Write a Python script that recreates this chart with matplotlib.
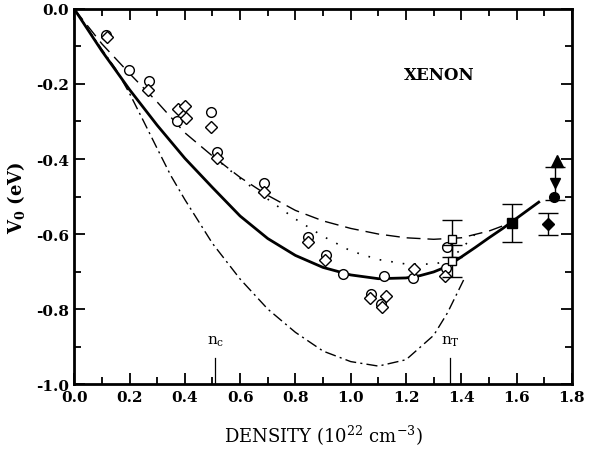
import matplotlib
matplotlib.use("Agg")
import matplotlib.pyplot as plt
from matplotlib.ticker import MultipleLocator

plt.rcParams['font.family'] = 'DejaVu Serif'
plt.rcParams['mathtext.fontset'] = 'dejavuserif'

# experimental points (open symbols)
circle_x = [0.116, 0.199, 0.271, 0.372, 0.494, 0.516, 0.687, 0.846, 0.91, 0.972,
            1.12, 1.225, 1.073, 1.11, 1.344, 1.348]
circle_y = [-0.069, -0.163, -0.192, -0.298, -0.276, -0.381, -0.465, -0.609, -0.656, -0.707,
            -0.712, -0.717, -0.76, -0.787, -0.691, -0.635]
diamond_x = [0.119, 0.267, 0.376, 0.401, 0.405, 0.495, 0.517, 0.687, 0.846, 0.907,
             1.07, 1.128, 1.113, 1.229, 1.341]
diamond_y = [-0.075, -0.216, -0.267, -0.259, -0.291, -0.315, -0.398, -0.487, -0.621, -0.669,
             -0.771, -0.766, -0.795, -0.693, -0.712]

# points with error bars
sq_open_x = [1.365, 1.365]
sq_open_y = [-0.612, -0.672]
sq_open_err = [0.05, 0.042]
sq_fill = (1.583, -0.571, 0.05)
dia_fill = (1.713, -0.573, 0.03)
tri_up = (1.745, -0.405)
tri_down = (1.74, -0.465, 0.045)
dot_fill = (1.735, -0.501)

# theory curves
solid_x = [0.0, 0.1, 0.2, 0.3, 0.4, 0.5, 0.6, 0.7, 0.8, 0.9, 1.0, 1.1, 1.2, 1.25, 1.3,
           1.35, 1.4, 1.45, 1.5, 1.55, 1.6, 1.68]
solid_y = [0.0, -0.112, -0.215, -0.31, -0.398, -0.476, -0.552, -0.612, -0.657, -0.689,
           -0.709, -0.719, -0.717, -0.711, -0.701, -0.686, -0.661, -0.636, -0.61, -0.585,
           -0.558, -0.515]
dash_x = [0.0, 0.1, 0.2, 0.3, 0.4, 0.5, 0.6, 0.7, 0.8, 0.9, 1.0, 1.1, 1.2, 1.3, 1.4, 1.5, 1.58]
dash_y = [0.0, -0.093, -0.172, -0.248, -0.33, -0.392, -0.449, -0.497, -0.537, -0.565, -0.585,
          -0.6, -0.61, -0.614, -0.61, -0.592, -0.57]
dot_x = [0.5, 0.6, 0.7, 0.8, 0.9, 1.0, 1.1, 1.2, 1.3, 1.35, 1.4, 1.45]
dot_y = [-0.392, -0.452, -0.507, -0.56, -0.606, -0.645, -0.668, -0.68, -0.68, -0.672, -0.64, -0.6]
dd_x = [0.0, 0.1, 0.15, 0.2, 0.25, 0.3, 0.35, 0.4, 0.5, 0.6, 0.7, 0.8, 0.9, 1.0, 1.1, 1.2,
        1.3, 1.35, 1.41]
dd_y = [0.0, -0.108, -0.16, -0.225, -0.298, -0.372, -0.445, -0.508, -0.625, -0.72, -0.8,
        -0.862, -0.912, -0.94, -0.952, -0.935, -0.87, -0.81, -0.72]

fig = plt.figure(figsize=(5.89, 4.52), dpi=100)
ax = fig.add_axes([0.126, 0.148, 0.845, 0.83])

ax.plot(solid_x, solid_y, color='black', lw=2.0)
ax.plot(dash_x, dash_y, color='black', lw=1.0, dashes=(10, 5))
ax.plot(dot_x, dot_y, color='black', lw=1.2, dashes=(1, 6))
ax.plot(dd_x, dd_y, color='black', lw=1.0, dashes=(8, 3, 1.5, 3))

ax.plot(circle_x, circle_y, 'o', mfc='white', mec='black', ms=7, mew=1.0)
ax.plot(diamond_x, diamond_y, 'D', mfc='white', mec='black', ms=6, mew=1.0)

ax.errorbar(sq_open_x, sq_open_y, yerr=sq_open_err, fmt='s', mfc='white', mec='black',
            ms=6, ecolor='black', capsize=7, elinewidth=1, capthick=1)
ax.errorbar([sq_fill[0]], [sq_fill[1]], yerr=[sq_fill[2]], fmt='s', color='black',
            ms=7, capsize=7, elinewidth=1, capthick=1)
ax.errorbar([dia_fill[0]], [dia_fill[1]], yerr=[dia_fill[2]], fmt='D', color='black',
            ms=6, capsize=7, elinewidth=1, capthick=1)
ax.plot([tri_up[0]], [tri_up[1]], '^', color='black', ms=8)
ax.errorbar([tri_down[0]], [tri_down[1]], yerr=[tri_down[2]], fmt='v', color='black',
            ms=7, capsize=7, elinewidth=1, capthick=1)
ax.plot([dot_fill[0]], [dot_fill[1]], 'o', color='black', ms=7)

# critical densities
ax.plot([0.51, 0.51], [-1.0, -0.93], color='black', lw=0.9)
ax.text(0.51, -0.905, r'n$_\mathregular{c}$', ha='center', va='bottom', fontsize=11)
ax.plot([1.36, 1.36], [-1.0, -0.93], color='black', lw=0.9)
ax.text(1.36, -0.905, r'n$_\mathregular{T}$', ha='center', va='bottom', fontsize=11)

ax.text(1.32, -0.175, 'XENON', ha='center', va='center', fontsize=12, fontweight='bold')

ax.set_xlim(0.0, 1.8)
ax.set_ylim(-1.0, 0.0)
ax.xaxis.set_major_locator(MultipleLocator(0.2))
ax.xaxis.set_minor_locator(MultipleLocator(0.1))
ax.yaxis.set_major_locator(MultipleLocator(0.2))
ax.yaxis.set_minor_locator(MultipleLocator(0.1))
ax.tick_params(which='both', direction='in', top=True, right=True, width=1.3)
ax.tick_params(which='major', length=8, labelsize=11, pad=4)
ax.tick_params(which='minor', length=5)
ax.set_xticklabels(['%.1f' % v for v in ax.get_xticks()], fontweight='bold')
ax.set_yticklabels(['%.1f' % v for v in ax.get_yticks()], fontweight='bold')
for s in ax.spines.values():
    s.set_linewidth(2.0)

ax.set_xlabel(r'DENSITY (10$^{22}$ cm$^{-3}$)', fontsize=13, labelpad=14)
ax.set_ylabel(r'V$_\mathbf{0}$ (eV)', fontsize=13, fontweight='bold', labelpad=6)

fig.savefig('out.png', dpi=100)
